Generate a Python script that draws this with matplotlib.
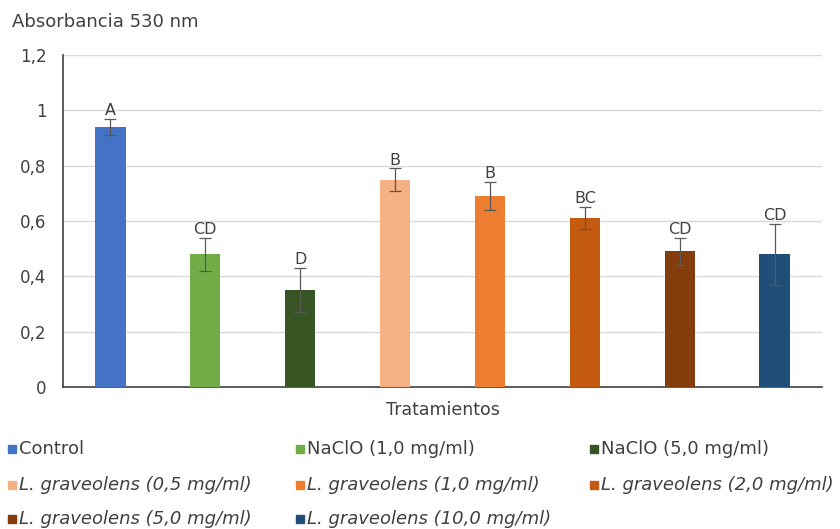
import matplotlib
matplotlib.use("Agg")
import matplotlib.pyplot as plt
from matplotlib.patches import Rectangle

categories = ["Control", "NaClO (1,0 mg/ml)", "NaClO (5,0 mg/ml)",
              "L. graveolens (0,5 mg/ml)", "L. graveolens (1,0 mg/ml)",
              "L. graveolens (2,0 mg/ml)", "L. graveolens (5,0 mg/ml)",
              "L. graveolens (10,0 mg/ml)"]
values = [0.94, 0.48, 0.35, 0.75, 0.69, 0.61, 0.49, 0.48]
errors = [0.03, 0.06, 0.08, 0.04, 0.05, 0.04, 0.05, 0.11]
letters = ["A", "CD", "D", "B", "B", "BC", "CD", "CD"]
colors = ["#4472C4", "#70AD47", "#375623", "#F4B183", "#ED7D31",
          "#C55A11", "#843C0C", "#1F4E79"]
italic = [False, False, False, True, True, True, True, True]
yticks = [0, 0.2, 0.4, 0.6, 0.8, 1.0, 1.2]
ytick_labels = ["0", "0,2", "0,4", "0,6", "0,8", "1", "1,2"]

plt.rcParams['font.family'] = ['DejaVu Sans']
fig = plt.figure(figsize=(8.4, 5.29), dpi=100)
ax = fig.add_axes([0.075, 0.2684, 0.9036, 0.6276])

x = list(range(len(values)))
ax.bar(x, values, width=0.32, color=colors, zorder=3)
ax.errorbar(x, values, yerr=errors, fmt='none', ecolor='#595959',
            elinewidth=0.9, capsize=4, capthick=0.9, zorder=4)
for xi, v, e, l in zip(x, values, errors, letters):
    ax.text(xi, v + e + 0.003, l, ha='center', va='bottom', fontsize=11.5,
            color='#404040', zorder=5)

ax.set_xlim(-0.5, len(values) - 0.5)
ax.set_ylim(0, 1.2)
ax.set_yticks(yticks)
ax.set_yticklabels(ytick_labels, fontsize=12, color='#404040')
ax.tick_params(axis='y', length=0, pad=12)
ax.set_xticks([])
ax.grid(axis='y', color='#D9D9D9', linewidth=1, zorder=0)
for s in ['top', 'right']:
    ax.spines[s].set_visible(False)
ax.spines['left'].set_color('#404040')
ax.spines['bottom'].set_color('#404040')
ax.spines['left'].set_linewidth(1.2)
ax.spines['bottom'].set_linewidth(1.2)
ax.set_xlabel("Tratamientos", fontsize=12.5, color='#404040', labelpad=10)

fig.text(12 / 840, 1 - 22 / 529, "Absorbancia 530 nm", fontsize=13,
         color='#404040', ha='left', va='center')

# legend, laid out row-wise in 3 columns
col_x = [8, 296, 590]
row_y = [449, 485, 519]
W, H = 840, 529
for i, (lab, c, it) in enumerate(zip(categories, colors, italic)):
    r, cc = divmod(i, 3)
    px, py = col_x[cc], row_y[r]
    fig.add_artist(Rectangle((px / W, 1 - (py + 4) / H), 8 / W, 8 / H,
                             transform=fig.transFigure, color=c))
    fig.text((px + 11) / W, 1 - py / H, lab, fontsize=13,
             style='italic' if it else 'normal', color='#404040',
             ha='left', va='center')

fig.savefig("out.png", dpi=100)
